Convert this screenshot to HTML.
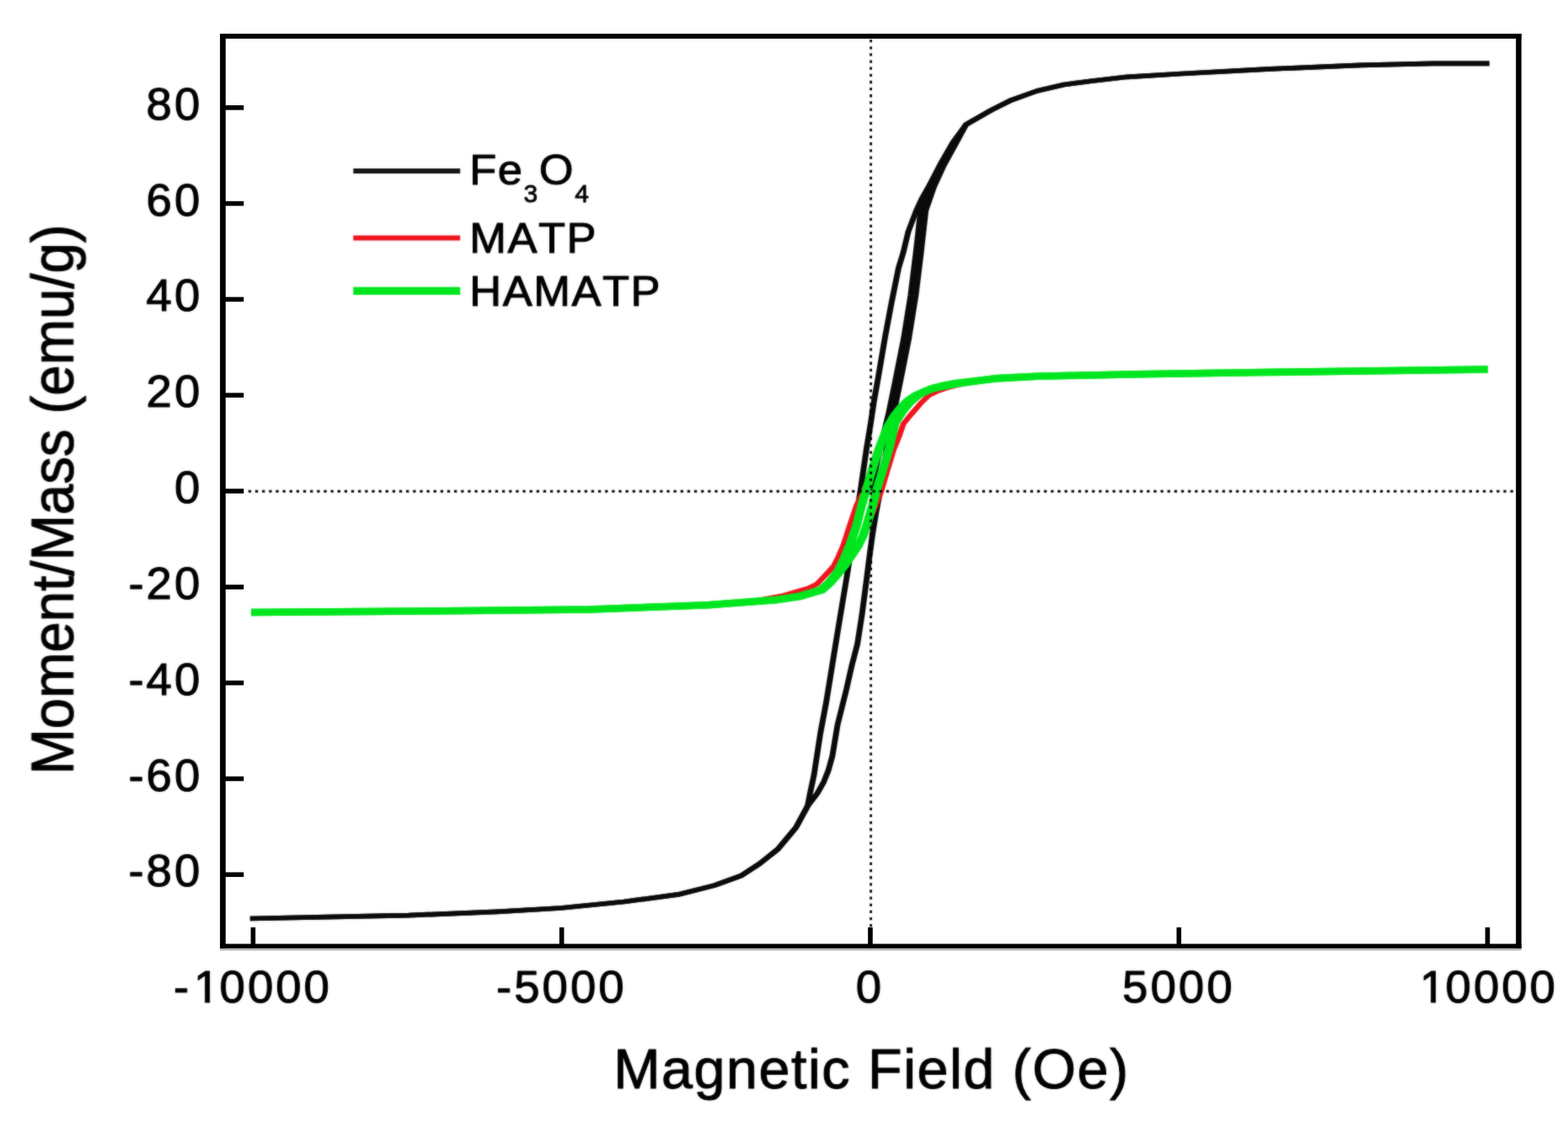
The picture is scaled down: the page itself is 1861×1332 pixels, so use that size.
<!DOCTYPE html>
<html lang="en">
<head>
<meta charset="utf-8">
<title>Magnetization curves</title>
<style>
html,body{margin:0;padding:0;background:#fff;}
body{width:1861px;height:1332px;overflow:hidden;}
svg{display:block;}
text{font-family:"Liberation Sans", sans-serif;fill:#000;stroke:#000;stroke-width:1.05px;stroke-linejoin:round;font-kerning:none;}
.tk{font-size:53px;letter-spacing:2.9px;}
.lg{font-size:50.7px;letter-spacing:1.5px;}
.sub{font-size:29px;stroke-width:0.85px;}
.ti{font-size:66.5px;letter-spacing:1.5px;}
.ty{font-size:65.3px;}
</style>
</head>
<body>
<svg width="1861" height="1332" viewBox="0 0 1861 1332">
<defs><filter id="soft" x="0" y="0" width="1861" height="1332" filterUnits="userSpaceOnUse" color-interpolation-filters="sRGB"><feGaussianBlur in="SourceGraphic" stdDeviation="0.8" result="b"/><feComposite in="SourceGraphic" in2="b" operator="arithmetic" k1="0" k2="0.5" k3="0.5" k4="0"/></filter></defs>
<rect x="0" y="0" width="1861" height="1332" fill="#ffffff"/>
<g filter="url(#soft)">
<g fill="none" stroke-linejoin="round" stroke-linecap="butt" transform="scale(1.220 1)">
<path stroke="#0a0a0a" stroke-width="5.7" d="M1448.85 75.3 L1394.26 75.4 L1323.77 77.4 L1235.66 81.9 L1149.51 87.5 L1096.64 91.3 L1061.39 96.2 L1035.00 100.5 L1008.61 108.0 L983.93 118.8 L964.51 130.6 L939.84 147.8 L927.05 169.0 L914.75 195.0 L903.28 222.0 L896.72 236.0 L891.39 250.0 L883.61 275.0 L878.69 300.0 L874.18 318.0 L867.21 360.0 L861.07 400.0 L854.10 450.0 L850.41 475.0 L847.38 500.0 L842.95 533.0 L836.89 584.0 L833.44 610.0 L824.10 682.5 L815.74 743.8 L804.02 832.0 L798.03 871.0 L791.89 920.0 L787.95 942.5 L785.66 957.0 L774.34 982.3 L756.72 1008.1 L739.10 1025.3 L721.48 1039.3 L695.00 1051.1 L659.75 1061.9 L606.97 1070.5 L545.25 1078.0 L483.61 1082.3 L397.54 1086.6 L327.05 1088.3 L243.28 1090.5"/>
<path stroke="#0a0a0a" stroke-width="5.7" d="M243.28 1090.5 L327.05 1088.3 L397.54 1086.6 L483.61 1082.3 L545.25 1078.0 L606.97 1070.5 L659.75 1061.9 L695.00 1051.1 L721.48 1039.3 L739.10 1025.3 L756.72 1008.1 L774.34 982.3 L785.66 957.0 L795.08 942.0 L801.39 928.2 L805.74 915.0 L809.75 897.6 L814.75 860.8 L823.11 820.0 L828.69 790.0 L834.18 764.2 L838.52 730.0 L842.54 692.7 L845.90 660.0 L849.18 631.5 L852.46 607.0 L856.15 584.0 L861.48 540.0 L869.34 491.0 L872.95 470.0 L875.66 453.7 L884.10 402.0 L890.82 351.0 L895.98 300.0 L900.57 249.9 L908.52 222.0 L918.20 196.2 L929.92 170.4 L939.84 147.8 L939.84 147.8 L964.51 130.6 L983.93 118.8 L1008.61 108.0 L1035.00 100.5 L1061.39 96.2 L1096.64 91.3 L1149.51 87.5 L1235.66 81.9 L1323.77 77.4 L1394.26 75.4 L1448.85 75.3"/>
<path stroke="#0a0a0a" stroke-width="5.7" d="M846.97 583.0 L855.74 535.0 L864.43 491.0 L868.03 470.0 L870.74 453.7 L879.18 402.0 L885.90 351.0 L891.07 300.0 L895.66 249.9 L903.61 222.0 L915.41 196.2 L928.36 170.4 L939.84 147.8"/>
<path stroke="#f0141e" stroke-width="5.6" d="M244.26 727.0 L409.84 725.5 L573.77 723.5 L688.52 718.3 L737.70 712.5 L762.13 707.0 L786.07 698.5 L794.26 693.7 L802.46 683.5 L811.07 672.0 L815.57 661.0 L820.25 648.0 L826.64 624.0 L833.28 600.0 L839.75 584.0 L845.08 568.0 L851.23 546.0 L857.38 527.0 L863.93 511.0 L870.90 497.0 L878.69 485.5 L886.89 475.0 L895.08 467.0 L908.93 460.7 L930.57 455.6 L967.62 449.4 L1008.20 446.7 L1106.56 444.3 L1229.51 442.0 L1447.54 438.5"/>
<path stroke="#f0141e" stroke-width="5.6" d="M244.26 727.0 L409.84 725.5 L573.77 723.5 L688.52 718.3 L754.10 712.2 L778.69 707.5 L798.36 701.0 L806.56 695.0 L814.75 683.5 L822.13 670.0 L829.51 657.0 L837.70 640.0 L844.26 622.0 L851.64 601.0 L857.05 584.0 L863.36 558.0 L869.59 533.0 L874.34 519.2 L878.85 503.3 L885.25 493.5 L890.98 485.5 L896.31 478.0 L903.77 469.3 L912.54 464.1 L921.15 460.6 L930.33 457.6 L942.62 454.5 L967.62 450.2 L1008.20 447.0 L1106.56 444.3 L1229.51 442.0 L1447.54 438.5"/>
<path stroke="#00e61e" stroke-width="8.6" d="M244.26 727.0 L409.84 725.5 L573.77 723.5 L688.52 718.3 L754.10 712.2 L778.11 707.6 L798.36 700.3 L806.39 691.8 L814.92 678.5 L821.31 663.0 L827.05 646.0 L833.28 624.0 L838.20 600.0 L842.46 583.0 L848.36 558.0 L854.51 535.0 L858.77 521.4 L863.61 506.3 L869.75 493.8 L875.98 484.4 L882.79 476.0 L890.49 469.6 L898.44 465.2 L908.93 460.7 L930.57 455.6 L967.62 449.4 L1008.20 446.7 L1106.56 444.3 L1229.51 442.0 L1447.54 438.5"/>
<path stroke="#00e61e" stroke-width="8.6" d="M244.26 727.0 L409.84 725.5 L573.77 723.5 L688.52 718.3 L754.10 712.2 L777.87 708.3 L799.59 700.5 L807.79 691.8 L815.57 681.0 L822.13 671.0 L828.28 660.0 L834.84 648.0 L839.67 636.0 L843.11 624.0 L848.85 600.0 L852.46 583.0 L858.85 558.0 L864.92 533.0 L867.70 518.6 L870.66 502.3 L878.36 487.8 L885.41 477.4 L894.34 468.3 L906.23 461.3 L917.87 457.6 L929.43 455.0 L967.62 449.4 L1008.20 446.7 L1106.56 444.3 L1229.51 442.0 L1447.54 438.5"/>
</g>
</g>
<g stroke="#000000" fill="none" filter="url(#soft)">
<line x1="294.8" y1="583.3" x2="1799" y2="583.3" stroke-width="3.1" stroke-dasharray="3.3 4.84"/>
<line x1="1033.6" y1="47" x2="1033.6" y2="1101" stroke-width="2.8" stroke-dasharray="3.3 4.84"/>
</g>
<rect x="261.2" y="1125.4" width="1544.5" height="3.1" fill="#b6b6b6"/>
<g fill="#000">
<rect x="261.1" y="40" width="6.7" height="1085.8"/>
<rect x="1799.2" y="40" width="6.5" height="1085.8"/>
<rect x="261.1" y="40" width="1544.6" height="5.9"/>
<rect x="261.1" y="1120.5" width="1544.6" height="5.3"/>
</g>
<g stroke="#000" stroke-width="5.6" fill="none">
<line x1="266" y1="127.8" x2="289.3" y2="127.8"/>
<line x1="266" y1="241.6" x2="289.3" y2="241.6"/>
<line x1="266" y1="355.4" x2="289.3" y2="355.4"/>
<line x1="266" y1="469.2" x2="289.3" y2="469.2"/>
<line x1="266" y1="583.0" x2="289.3" y2="583.0"/>
<line x1="266" y1="696.9" x2="289.3" y2="696.9"/>
<line x1="266" y1="810.7" x2="289.3" y2="810.7"/>
<line x1="266" y1="924.5" x2="289.3" y2="924.5"/>
<line x1="266" y1="1038.3" x2="289.3" y2="1038.3"/>
<line x1="300.40" y1="1122" x2="300.40" y2="1100.9"/>
<line x1="666.68" y1="1122" x2="666.68" y2="1100.9"/>
<line x1="1032.95" y1="1122" x2="1032.95" y2="1100.9"/>
<line x1="1399.22" y1="1122" x2="1399.22" y2="1100.9"/>
<line x1="1765.50" y1="1122" x2="1765.50" y2="1100.9"/>
</g>
<g filter="url(#soft)">
<text class="tk" text-anchor="end" transform="translate(240.3 141.8) scale(1.030 1)">80</text>
<text class="tk" text-anchor="end" transform="translate(240.3 255.6) scale(1.030 1)">60</text>
<text class="tk" text-anchor="end" transform="translate(240.3 369.4) scale(1.030 1)">40</text>
<text class="tk" text-anchor="end" transform="translate(240.3 483.2) scale(1.030 1)">20</text>
<text class="tk" text-anchor="end" transform="translate(240.3 597.0) scale(1.030 1)">0</text>
<text class="tk" text-anchor="end" transform="translate(240.3 710.9) scale(1.030 1)">-20</text>
<text class="tk" text-anchor="end" transform="translate(240.3 824.7) scale(1.030 1)">-40</text>
<text class="tk" text-anchor="end" transform="translate(240.3 938.5) scale(1.030 1)">-60</text>
<text class="tk" text-anchor="end" transform="translate(240.3 1052.3) scale(1.030 1)">-80</text>
<text class="tk" text-anchor="middle" dx="0 2.8 -2.8" transform="translate(300.0 1189.5) scale(1.030 1)">-10000</text>
<text class="tk" text-anchor="middle" transform="translate(666.3 1189.5) scale(1.030 1)">-5000</text>
<text class="tk" text-anchor="middle" transform="translate(1032.5 1189.5) scale(1.030 1)">0</text>
<text class="tk" text-anchor="middle" transform="translate(1398.8 1189.5) scale(1.030 1)">5000</text>
<text class="tk" text-anchor="middle" dx="2.8 -2.8" transform="translate(1764.1 1189.5) scale(1.030 1)">10000</text>
<g fill="#ffffff">
<rect x="232.00" y="1184.2" width="11.10" height="7.8"/>
<rect x="249.15" y="1184.2" width="10.85" height="7.8"/>
<rect x="1687.00" y="1184.2" width="11.10" height="7.8"/>
<rect x="1704.15" y="1184.2" width="10.85" height="7.8"/>
</g>
<text class="ti" text-anchor="middle" transform="translate(1034.4 1291.8) scale(1 1)">Magnetic Field (Oe)</text>
<text class="ty" text-anchor="middle" transform="translate(87 593) scale(1.085 1) rotate(-90)">Moment/Mass (emu/g)</text>
<line x1="419.3" y1="203" x2="546.2" y2="203" stroke="#151515" stroke-width="6"/>
<line x1="419.3" y1="282.5" x2="546.2" y2="282.5" stroke="#f0141e" stroke-width="6"/>
<line x1="419.3" y1="345.4" x2="546.2" y2="345.4" stroke="#00e61e" stroke-width="9.2"/>
<text class="lg" transform="translate(557.2 219.1) scale(1.035 1)">Fe<tspan class="sub" dy="20.5">3</tspan><tspan dy="-20.5">O</tspan><tspan class="sub" dy="20.5">4</tspan></text>
<text class="lg" transform="translate(557.2 299.7) scale(1.035 1)">MATP</text>
<text class="lg" transform="translate(557.2 363.1) scale(1.035 1)">HAMATP</text>
</g>
</svg>
</body>
</html>
